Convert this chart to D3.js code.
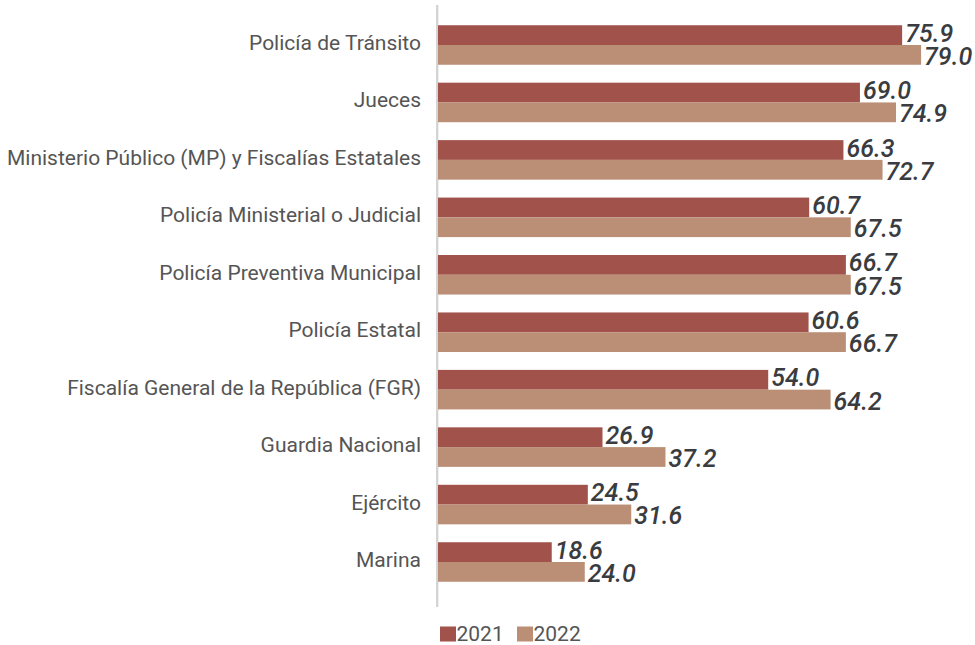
<!DOCTYPE html>
<html><head><meta charset="utf-8">
<script src="https://cdn.jsdelivr.net/npm/d3@7"></script>
<style>body{margin:0;background:#fff}svg{display:block}</style>
</head><body><svg id="c" width="975" height="645"></svg>
<script>
const categories = ["Policía de Tránsito","Jueces","Ministerio Público (MP) y Fiscalías Estatales","Policía Ministerial o Judicial","Policía Preventiva Municipal","Policía Estatal","Fiscalía General de la República (FGR)","Guardia Nacional","Ejército","Marina"];
const values2021 = [75.9,69.0,66.3,60.7,66.7,60.6,54.0,26.9,24.5,18.6];
const values2022 = [79.0,74.9,72.7,67.5,67.5,66.7,64.2,37.2,31.6,24.0];
const seriesNames = ["2021","2022"];
const colors = ["#a0524b","#ba8f76"];

const svg = d3.select("#c");
const x0 = 438;
const x = d3.scaleLinear().domain([0,80]).range([x0, x0 + 6.115*80]);
const step = 57.44;
const y = d3.scaleBand().domain(categories).range([45 - step/2, 562 + step/2]).paddingInner(0.312).paddingOuter(0.156);
const ys = d3.scaleBand().domain(seriesNames).range([0, y.bandwidth()]);
const labelShift = [6.5, 10];

// axis line
svg.append("line").attr("x1",437.2).attr("x2",437.2).attr("y1",5).attr("y2",607)
  .attr("stroke","#d3d3d3").attr("stroke-width",2.3);

const data = categories.map((c,i)=>({c, vals:[values2021[i], values2022[i]]}));
const g = svg.selectAll("g.grp").data(data).join("g").attr("transform",d=>`translate(0,${y(d.c)})`);
seriesNames.forEach((s,k)=>{
  g.append("rect").attr("x",x(0)).attr("y",ys(s)).attr("width",d=>x(d.vals[k])-x(0))
    .attr("height",ys.bandwidth()).attr("fill",colors[k]);
  g.append("text").attr("x",d=>x(d.vals[k])+3).attr("y",ys(s)+ys.bandwidth()/2+labelShift[k])
    .attr("font-family","Roboto, sans-serif").attr("font-style","italic").attr("font-weight",500)
    .attr("font-size",25).attr("fill","#3a3c40").text(d=>d.vals[k].toFixed(1));
});
g.append("text").attr("x",421).attr("y",y.bandwidth()/2+5).attr("text-anchor","end")
  .attr("font-family","Roboto, sans-serif").attr("font-size",21).attr("fill","#555")
  .text(d=>d.c);

// legend
const lg = svg.append("g");
const items = [{n:"2021",x:440},{n:"2022",x:517}];
items.forEach((it,k)=>{
  lg.append("rect").attr("x",it.x).attr("y",626.5).attr("width",16).attr("height",15).attr("fill",colors[k]);
  lg.append("text").attr("x",it.x+16.5).attr("y",641).attr("font-family","Roboto, sans-serif")
    .attr("font-size",21).attr("fill","#555").text(it.n);
});
</script></body></html>
